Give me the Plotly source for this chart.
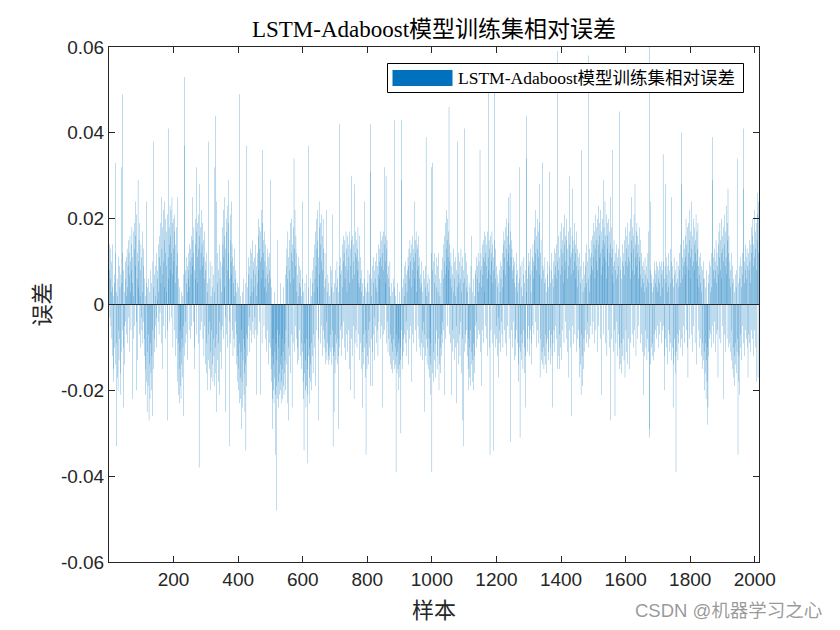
import plotly.graph_objects as go

# ---------------- text ----------------
title_text = "LSTM-Adaboost模型训练集相对误差"
legend_text = "LSTM-Adaboost模型训练集相对误差"
x_label = "样本"
y_label = "误差"
watermark = "CSDN @机器学习之心"

# ---------------- ticks ----------------
x_tick_vals = [200, 400, 600, 800, 1000, 1200, 1400, 1600, 1800, 2000]
x_tick_text = ["200", "400", "600", "800", "1000", "1200", "1400", "1600", "1800", "2000"]
y_tick_vals = [-0.06, -0.04, -0.02, 0, 0.02, 0.04, 0.06]
y_tick_text = ["-0.06", "-0.04", "-0.02", "0", "0.02", "0.04", "0.06"]

# ---------------- data: relative error per sample, in units of 0.001 ----------------
err_part1 = [
    8, 14, -3, 6, 13, -5, 3, 10, -8, 14, -12, 4, -15, 2, -18, 7, -10, 5, 12, 33,
    -14, 3, -33, -9, 6, -17, 2, -20, -6, 11, -13, 9, -8, 4, -16, -21, 7, -11, 32, 5,
    49, -6, 12, -24, -10, 8, -14, 3, -5, 10,
    6, -4, 11, 2, -7, 13, 4, -9, 9, 15, -3, 12, 7, -11, 16, 3, 10, -6, 14, 8,
    18, -22, 5, 11, -8, 17, 2, 13, -5, 19, 9, 16, 24, -4, -20, 21, 6, 12, -13, 29,
    10, 4, 15, -7, 19, 2, -10, 8, 14, -3,
    11, -6, 17, 3, -9, 13, -4, 9, -12, 6, -8, 2, -15, -21, 5, -18, 24, -25, -11, 4,
    -19, -7, 6, -27, -14, 3, -22, -9, 8, -16, -20, 5, -12, -26, -6, 10, 38, -15, 4, -8,
    7, -11, 2, 9, -5, 12, -3, -10, 6, 1,
    8, -4, 14, 3, -7, 11, 16, -2, 9, 19, 5, 25, -9, 13, 18, -15, 7, 22, 10, -5,
    15, 24, 4, 12, -8, 20, 9, 17, 3, -6, -27, 21, 11, 41, 6, 18, 14, -4, 23, 8,
    16, 22, -3, 12, 25, 7, 19, -10, 13, 20,
    10, 17, -6, 21, 5, 14, -12, 18, 9, -8, 12, 25, -18, -9, -21, 6, -15, -23, 4, -11,
    -19, -6, -22, 3, -14, -8, -17, 2, -10, -5, -26, 7, 37, -12, 53, -4, 8, -9, 5, 11,
    -7, 3, 9, -13, 6, 12, 8, -6, 14,
    4, 10, -8, 13, 7, 16, -5, 11, 25, 9, 15, -4, 12, 18, -10, -15, 8, 14, 20, 6,
    17, -7, 32, 11, 19, 5, 21, -9, 13, -38, 16, 28, 8, -6, 18, 12, 22, -4, 14, 9,
    19, -8, 11, 15, -12, 6, 17, -5, 10, -14,
    8, -16, 12, -9, 5, -20, 3, -13, 38, -7, 6, -15, -4, 10, -11, -20, 2, -17, -6, 9,
    -14, 4, -18, -8, 7, -12, -19, 3, 32, -10, 44, -16, 24, -7, -25, 12, -13, 5, -18, 8,
    -9, 14, -4, -21, 6, -11, 10, -6, 3, -15,
    9, 18, -5, 14, 22, -8, 11, 25, 4, 16, -3, -25, 13, 20, -7, 17, 8, 23, -10, 12,
    19, 29, 6, -4, -33, 15, 21, -9, 10, 24, 7, 14, -6, 11, -12, 5, 9, -8, 2, 13,
    -10, 6, -4, 8, -14, 3, -7, -18, 5, -12,
]

err_part2 = [
    -20, 4, -15, -23, 49, -9, -17, 2, -22, -11, -6, -29, -18, 3, -24, -13, -8, 6, -21, -16,
    -10, -25, 5, -14, -34, -7, -19, 37, -12, 4, -8, 7, -5, 11, -3, 9, -11, 2, 13, -6,
    6, -9, 12, 3, -4, 15, -7, 8, 10,
    4, -8, 11, -3, 7, 14, -6, 9, 2, -21, 12, 5, -7, 16, 8, 20, -4, 13, 18, 10,
    -21, 17, 6, 22, 11, -9, 19, 36, 8, 15, 12, -5, 17, 4, 10, -8, 14, 6, -11, 9,
    3, 13, -6, 7, 11, -14, 5, 8, -9, 12,
    6, -10, 29, -15, 4, -18, -12, -22, -29, -8, -20, -14, -23, 3, -17, -11, -21, -35, -9, -19,
    -48, -13, -22, -6, 15, -18, -24, -10, -16, -21, -7, -20, -14, 5, -23, -12, -18, -8, -22, -15,
    -11, -19, 4, -21, -9, -16, -13, 7, -20, -6,
    9, -14, 13, -23, 6, 17, -10, 11, -27, 15, 8, -12, 19, 5, -16, 12, 20, -7, -24, 14,
    10, -9, 18, 6, 34, -11, 13, 22, -5, 9, 16, -8, 12, 3, -14, 7, -10, 2, 11, -13,
    5, -6, 9, -12, 4, 8, -15, 2, -9, 6,
    24, -11, -18, 3, -22, -34, -9, -16, 5, -20, -13, -24, 7, -19, -8, -15, -37, -21, 4, -12,
    37, -17, -10, -23, 6, -14, -18, 2, -9, -20, 8, -12, 5, -16, 11, -7, 3, -10, 14, 6,
    17, -19, 9, 20, -6, 13, 22, 4, 15, -8,
    11, -27, 18, 7, 24, -9, 14, 19, -5, 10, 21, 16, -12, 8, 20, -6, 13, -10, 4,
    -8, 12, -14, 6, -11, -4, 22, -13, 3, -9, 7, -12, -14, 5, -10, 2, -13, 9, -7, -11,
    4, -14, 8, -10, -6, 21, -33, -12, 3, -25,
    -11, 5, -16, 8, -7, -13, 4, -9, 10, -14, 6, -8, -12, -29, 3, 9, 42, -10, 7, -6,
    11, -5, 8, -12, 4, 14, -8, 10, 16, -4, 12, -10, 15, 6, -13, 9, 17, -7, 13, 3,
    -11, 16, 8, -6, 14, 11, -15, 5, 17, -20,
    9, 13, -8, 15, 30, 6, -12, 16, 10, -5, 14, -22, 7, 28, -9, 12, 17, -6, 11, 15,
    -10, 8, 13, 18, -7, 10, 5, -13, 16, 4, 11, -9, 6, -15, 3, 8, -11, 5, -24, -7,
    2, -14, 6, 24, -10, 4, -17, -6, -35, 3,
]

err_part3 = [
    -9, -15, 5, -12, 8, -6, -14, 3, -10, 7, -4, 31, 42, -19, 6, -8, 2, -19, 9, -11,
    5, -7, 11, -3, 8, -13, 6, 10, -5, 4, -9, 12, 3, -6, 9, -12, 7, 14, -4, 10,
    6, 13, 17, -8, 11, 15, -5, 9, -24, 16,
    12, -7, 17, 8, 14, 32, -6, 10, 16, 5, 30, -9, 13, 15, -4, 7, -11, 9, -8,
    6, -12, 4, 10, -7, 2, -14, 5, -9, -15, 3, -11, -16, 6, -13, -8, 4, 43, -15, -10,
    -14, 2, -39, -12, -7, -16, 5, -11, -15, -9,
    -20, -8, -14, 3, -17, -10, -13, -30, 29, -6, 43, -12, 4, -15, -8, 6, -11, 2, 9, -7,
    5, -9, 10, -4, 7, -12, 3, 8, -6, 11, 9, -14, 13, 6, -8, 15, 10, -5, 12, 4,
    14, -18, 8, 16, -7, 11, 13, -9, 6, 24,
    10, 15, -6, 12, 17, 3, -11, 14, 8, 13, -5, 16, 9, -8, 6, 11, -10, 4, 7, -12,
    5, -9, 10, -6, 3, -13, 8, -4, -10, 6, -7, -25, 4, -12, 9, 39, -8, 2, -14, 5,
    -10, 7, -15, 3, -8, -17, 6, -12, -21, -9,
    -14, 12, 32, -39, 8, -16, 33, -11, 10, -18, 5, -13, 12, -9, 7, -17, 11, -6, 4, -15,
    9, -12, 3, 12, -8, -20, 6, -14, 2, -10, -16, 5, -7, -12, 8, -4, 11, -9, 6, 14,
    -6, 10, -21, 16, 19, 7, -8, 13, 22, 9,
    15, -5, 20, 11, 17, 8, 46, -7, 14, 10, -9, 6, 12, -21, 4, 9, -11, 7, -6, 13,
    3, -8, 10, -13, 6, 2, -10, 11, -5, 8, -23, 4, 38, -9, 7, -14, 12, 5, -7, 10,
    -12, 6, -4, 13, -16, 3, 9, -8, 11, -27,
    5, -33, 8, 41, -11, 6, -7, 12, -9, 4, 10, -6, 3, -12, 7, -15, -20, -8, 5,
    -17, -10, 4, -19, -6, 9, -14, 16, -11, -18, 3, -13, -20, 6, -9, -16, 2, -12, 8, -5,
    7, -10, 11, -4, 6, 9, -8, 12, 3, -6,
    10, 5, -7, 36, 8, -11, 12, 4, -19, 9, 14, -6, 7, 11, -9, 15, 3, 10, 17, -5,
    12, 16, -8, 9, 14, 6, -12, 17, 11, 53, 8, 15, -10, 13, -35, 7, 16, -6, 12, 10,
    17, -9, 14, 5, 11, -34, 8, 15, 51, -7,
]

err_part4 = [
    13, -10, 6, -8, 9, -5, 4, -12, 7, -3, -17, 5, -9, 8, -6, 3, 10, -11, 6, -4,
    9, -7, 12, 4, -10, 14, 8, 17, -6, 11, 15, -9, 18, 7, 13, -12, 20, 10, -5, 16,
    12, 19, 25, -8, 14, 9, 26, -32, 17, 11,
    15, -6, 13, 8, -10, 6, 11, -4, 9, -13, 5, 10, -8, 4, -12, 7, -6, 12, 3, -9,
    8, -14, -18, 5, -10, 32, 6, -31, -11, 9, -7, 4, -13, 10, -9, 2, -15, 7, -6, 11,
    -10, 5, -16, -24, 8, -12, 34, 3, 44, -8,
    6, -11, 9, -5, 12, -8, 10, -12, 7,
    -6, 13, 3, -9, -14, 8, 11, -5, 14, 6, 10, -7, 15, 9, 18, -4, 12, 22, -10, 16,
    8, 20, -6, 13, 17, -9, 11, 19, 7, 28, -17, 12, -8, 15, -13, 6, -11, 33, -14, 9,
    -10, 8, -15, 5, -12, 11, -7, -14, 6, -9, 3, -16, 10, -8, 7, -13, 4, -11, 9, -6,
    31, -10, 5, -14, 8, -7, 12, -12, -24, 6, -9, 10, 4, -6, 13, -11, 7, 9, -5, 12,
    -8, 6, 14, 59, -15, 10, -12, 8, 16, -7,
    11, -15, 17, 7, -10, 13, 19, -13, 9, 15, -6, 12, 18, 5, -9, 14, 21, 8, -4, 16,
    10, -8, 15, 20, 6, -11, 13, -17, 17, 9, 30, -6, 14, 11, -10, 18, 7, -26, 12, 16,
    27, -5, 13, 8, -9, 15, 10, 19, -7, 12,
    14, 6, -11, 17, 9, -8, 13, 4, 11, -6, 8, 12, -10, -17, 5, -14, 9, -21, -7, 36,
    -12, 6, -19, 3, -15, 10, -8, 7, -11, 4, 9, -6, 12, -9, 5, 14, -4, 10, -7, 58,
    6, -10, 13, 3, -8, 11, 7, -5, 15, 9,
    12, -7, 16, 8, -4, 19, 11, 14, -9, 17, 6, 21, 13, -6, 18, 10, 15, -11, 20, 8,
    14, 23, -5, 16, 11, 19, -8, 12, 22, 7, 17, -21, 13, 20, 9, 15, 29, -7, 18, 11,
    14, 24, -9, 16, 10, 21, 6, -12, 19, 13,
    16, 9, -6, 20, 12, 17, -10, 25, -27, 14, 11, 18, -8, 7, 13, 36, 5, -11, 9, 15,
    -6, 10, -26, 8, 12, -9, 6, 14, -4, 11, 7, -12, 9, 13, -7, 45, -10, -15, 8,
    -14, 11, -9, 6, -16, 10, -12, 14, -8, 9,
]

err_part5 = [
    12, -13, 7, 15, -17, 10, 18, -6, 13, -11, 16, 9, -14, 19, 11, -8, 14, 17, -15, 10,
    20, 6, -9, 15, 25, 12, -7, 18, 8, 16, -10, 13, 21, 7, -6, 28, 14, 11, -12, 17,
    9, 19, -8, 12, 16, 6, -5, 14, 10, 18,
    11, -9, 15, 7, -7, 12, 4, 9, -11, 6, 10, -21, 5, 8, -12, 3, 11, -6, 7, -10,
    4, 9, -13, 6, -8, 12, 17, -11, 5, -29, 62, -31, 8, 24, -14, 5, -10, 7, -12, 3,
    -9, 6, -13, 4, -7, 10, -11, 8, 5, -6,
    7, -8, 10, 4, -5, 9, 3, -10, 8, 6, -7, 10, 5, -4, 9, 2, -9, 7, 10, -6,
    4, 8, 35, -5, 10, 6, -12, -20, 9, 28, -8, 5, 11, -10, 7, 3, -14, 9, -6, 12,
    4, -11, 8, -7, 13, 5, -9, 10, 25, -13,
    6, -10, 9, -24, 4, -14, 11, -8, 7, -12, -16, 8, -39, 5, -11, 10, -7, 6, -13,
    9, -9, 4, 12, -6, 8, -10, 14, 5, 40, 28, -8, 11, 6, -12, 9, 15, -5, 10, 13,
    -9, 7, 16, 11, 20, -6, 14, 9, -10, 18,
    -17, 12, 19, 8, 15, -8, 22, 11, 6, 17, -7, 13, 24, 9, -11, 16, 10, 20, -5, 14,
    8, 18, -9, 12, 15, 21, -14, 10, 17, 6, 13, 19, -6, 9, 4, -10, 11, 7, -8, 12,
    5, -12, 9, 3, -15, 8, -9, 6, -13, 10,
    -11, -20, 6, -16, -9, 4, -22, -13, 8, -18, -28, -10, -24, 5, -12, 7, -8, 10, -6, 3,
    9, -7, 12, 4, -10, 39, 29, -5, 8, 11, -9, 6, 13, -4, 10, -11, 8, 15, 5, -7,
    12, 9, -6, -17, 14, 7, 17, -8, 11, 19,
    8, 15, -9, 20, 12, 6, 16, -5, 13, -22, 18, 10, -7, 21, 14, 9, -11, 17, 11, 23,
    7, -8, 15, 19, 27, -10, 12, 16, 6, -9, 10, 4, -11, 8, -6, 12, -13, 5, 9, -15,
    -10, 6, -17, 3, -12, -19, 7, -9, -14, 4,
    -16, 8, -11, 34, -8, -35, 5, -18, -12, 9, -21, 6, -10, 11, -7, 4, -13, 9, -5, 12,
    7, 41, 27, -9, 10, 5, -12, 8, 14, -6, 11, -8, 6, 13, -10, 9, -17, 12, -7,
    8, 15, -9, 10, 5, -11, 14, 18, -6, 12,
    16, -8, 20, 9, -12, 14, 22, -6, 11, 17, -10, 13, 19, 8, -18, 15, 21, 26, -17, 12,
    24,
]

UNIT = 0.001
errors = [v * UNIT for v in err_part1 + err_part2 + err_part3 + err_part4 + err_part5]
samples = list(range(1, len(errors) + 1))
n = len(errors)

# ---------------- style ----------------
BAR_COLOR = "rgba(0,114,189,0.99)"
AXIS_COLOR = "#262626"
SERIF = "'Liberation Serif', 'Times New Roman', 'Noto Sans CJK SC', serif"
SANS = "'Liberation Sans', Arial, 'Noto Sans CJK SC', sans-serif"

fig = go.Figure()
fig.add_trace(go.Bar(
    x=samples, y=errors, width=0.8,
    marker=dict(color=BAR_COLOR, line=dict(width=0)),
    showlegend=False, hoverinfo="x+y",
))

# plot area geometry (pixels)
L, R, T, B = 109, 81, 47, 68
W, H = 840, 630
pw, ph = W - L - R, H - T - B


def px_x(p):
    return (p - L) / pw


def px_y(p):
    return (H - B - p) / ph


axis_common = dict(
    showline=True, linecolor=AXIS_COLOR, linewidth=1, mirror="ticks",
    ticks="inside", ticklen=6, tickwidth=1, tickcolor=AXIS_COLOR,
    showgrid=False, zeroline=False,
    tickfont=dict(family=SANS, size=19, color=AXIS_COLOR),
)

fig.update_layout(
    width=W, height=H,
    margin=dict(l=L, r=R, t=T, b=B, pad=0),
    paper_bgcolor="white", plot_bgcolor="white",
    bargap=0.2,
    showlegend=False,
    title=dict(text=title_text, x=0.5, xref="paper", xanchor="center",
               y=1 - 29 / H, yref="container", yanchor="middle",
               font=dict(family=SERIF, size=23, color="#000000")),
    xaxis=dict(range=[0, n + 1], tickmode="array", tickvals=x_tick_vals,
               ticktext=x_tick_text, **axis_common),
    yaxis=dict(range=[-0.06, 0.06], tickmode="array", tickvals=y_tick_vals,
               ticktext=y_tick_text, **axis_common),
    shapes=[
        dict(type="line", xref="paper", x0=0, x1=1, yref="y", y0=0, y1=0,
             line=dict(color=AXIS_COLOR, width=1), layer="above"),
        dict(type="rect", xref="paper", yref="paper",
             x0=px_x(387.5), x1=px_x(743.5), y0=px_y(92.5), y1=px_y(63.5),
             fillcolor="white", line=dict(color="#000000", width=1), layer="above"),
        dict(type="rect", xref="paper", yref="paper",
             x0=px_x(392.5), x1=px_x(452.5), y0=px_y(86), y1=px_y(70),
             fillcolor="#0072BD", line=dict(width=0), layer="above"),
    ],
    annotations=[
        dict(text=legend_text, xref="paper", yref="paper", x=px_x(456), y=px_y(78),
             xanchor="left", yanchor="middle", showarrow=False,
             font=dict(family=SERIF, size=17.5, color="#000000")),
        dict(text=x_label, xref="paper", yref="paper", x=0.5, y=px_y(610),
             xanchor="center", yanchor="middle", showarrow=False,
             font=dict(family=SERIF, size=22, color=AXIS_COLOR)),
        dict(text=y_label, xref="paper", yref="paper", x=px_x(42), y=0.5,
             xanchor="center", yanchor="middle", showarrow=False, textangle=-90,
             font=dict(family=SERIF, size=22, color=AXIS_COLOR)),
        dict(text=watermark, xref="paper", yref="paper", x=px_x(633), y=px_y(610),
             xanchor="left", yanchor="middle", showarrow=False,
             font=dict(family=SANS, size=18.5, color="rgba(120,120,120,0.75)")),
    ],
)

fig.write_html("out.html",
               config={"displayModeBar": False},
               post_script="document.body.style.margin='0';document.body.style.overflow='hidden';")
